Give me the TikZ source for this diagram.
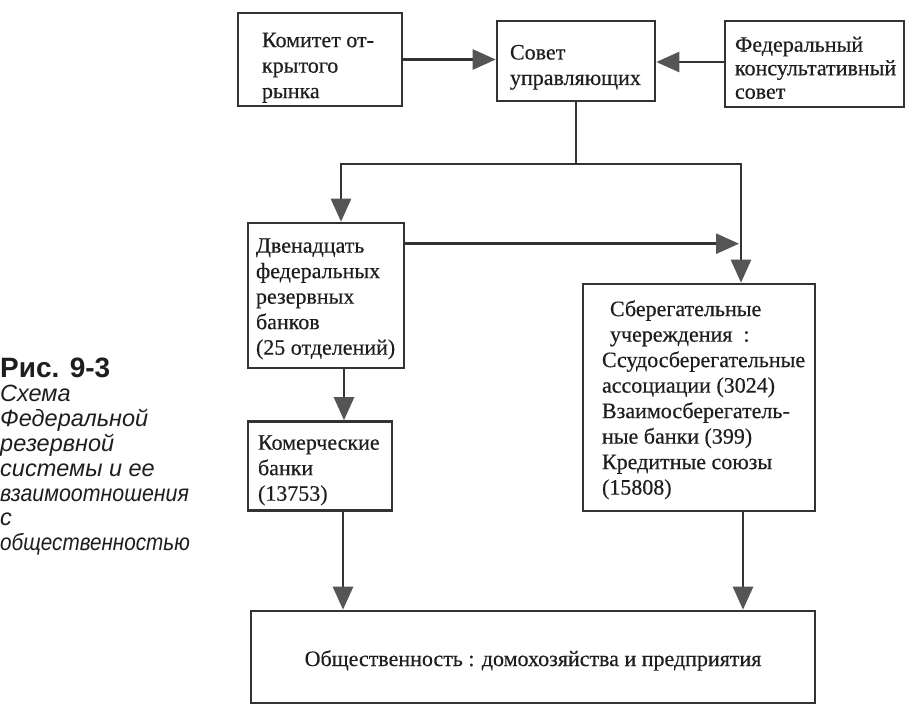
\documentclass[tikz,border=0pt]{standalone}
\usepackage{fontspec}
\setmainfont{Liberation Serif}[FakeBold=0.4]
\newfontfamily\capfont{Liberation Sans}
\usetikzlibrary{arrows.meta}
\definecolor{ink}{HTML}{333333}
\definecolor{tipgray}{HTML}{555555}
\definecolor{txt}{HTML}{1E1E1E}
\tikzset{
  box/.style={draw=ink, line width=2.6pt, rectangle, inner sep=0pt,
    text=txt, font=\fontsize{22}{25.5}\selectfont},
  conn/.style={draw=ink, line width=2.6pt},
  arr/.style={conn, -{Triangle[length=23pt,width=20pt,fill=tipgray,color=tipgray]}},
  captext/.style={inner sep=0pt, anchor=base west, text=txt},
}
% #1 shift down, #2 text width, #3 lines
\newcommand{\bt}[3]{\raisebox{-#1}[0pt][0pt]{\parbox[c]{#2}{\raggedright #3}}}
\begin{document}
\begin{tikzpicture}[x=1pt,y=-1pt]
\fill[white] (0,0) rectangle (917,715);
\useasboundingbox (0,0) rectangle (917,715);

% boxes
\node[box, minimum width=164pt, minimum height=93pt] (kom) at (320,59.5)
  {\bt{13.5pt}{116pt}{Комитет от-\\крытого\\рынка}};
\node[box, minimum width=158pt, minimum height=80pt] (sov) at (576,61)
  {\bt{11.5pt}{132pt}{Совет\\управляющих}};
\node[box, minimum width=179pt, minimum height=86pt, font=\fontsize{22}{23.5}\selectfont] (fed) at (814.5,64)
  {\bt{9pt}{159pt}{Федеральный\\консультативный\\совет}};
\node[box, minimum width=156pt, minimum height=145pt] (dve) at (326,295.5)
  {\bt{8.5pt}{140pt}{Двенадцать\\федеральных\\резервных\\банков\\(25~отделений)}};
\node[box, minimum width=144pt, minimum height=89pt] (kmr) at (320,466)
  {\bt{9.5pt}{124pt}{Комерческие\\банки\\(13753)}};
\node[box, minimum width=232pt, minimum height=227pt] (sbr) at (699,397.5)
  {\bt{7.5pt}{194pt}{\hspace*{8pt}Сберегательные\\\hspace*{8pt}учереждения~~:\\Ссудосберегательные\\ассоциации~(3024)\\Взаимосберегатель-\\ные~банки~(399)\\Кредитные~союзы\\(15808)}};
\node[box, minimum width=564pt, minimum height=92pt] (obs) at (533,657)
  {\raisebox{-9pt}[0pt][0pt]{Общественность : домохозяйства и предприятия}};

% connectors
\coordinate (hl) at (341,164);
\coordinate (hr) at (741,164);
\draw[arr] (kom.east) -- (kom.east -| sov.west);
\draw[arr] ([yshift=2pt]fed.west) -- ([yshift=2pt]fed.west -| sov.east);
\draw[conn] (sov.south) -- (sov.south |- hl);
\draw[arr, line join=miter] (sov.south |- hl) -- (hl) -- (hl |- dve.north);
\draw[arr, line join=miter] (sov.south |- hl) -- (hr) -- (hr |- sbr.north);
\draw[arr, shorten >=2pt] ([yshift=-22pt]dve.north east) -- ([yshift=-22pt]dve.north east -| hr);
\draw[arr] ([xshift=18pt]dve.south) -- ([xshift=18pt]dve.south |- kmr.north);
\draw[arr] ([xshift=23pt]kmr.south) -- ([xshift=23pt]kmr.south |- obs.north);
\draw[arr] ([xshift=44pt]sbr.south) -- ([xshift=44pt]sbr.south |- obs.north);

% caption
\node[captext, font=\capfont\bfseries\fontsize{28}{30}\selectfont] (c0) at (0,377) {Рис. 9-3};
\foreach \t [count=\i] in {Схема,Федеральной,резервной,системы и ее,\scalebox{0.91}[1]{взаимоотношения},с,\scalebox{0.88}[1]{общественностью}}
  \node[captext, font=\capfont\itshape\fontsize{23.5}{25}\selectfont] (c\i) at (0,{377+24.8*\i}) {\t};
\end{tikzpicture}
\end{document}
